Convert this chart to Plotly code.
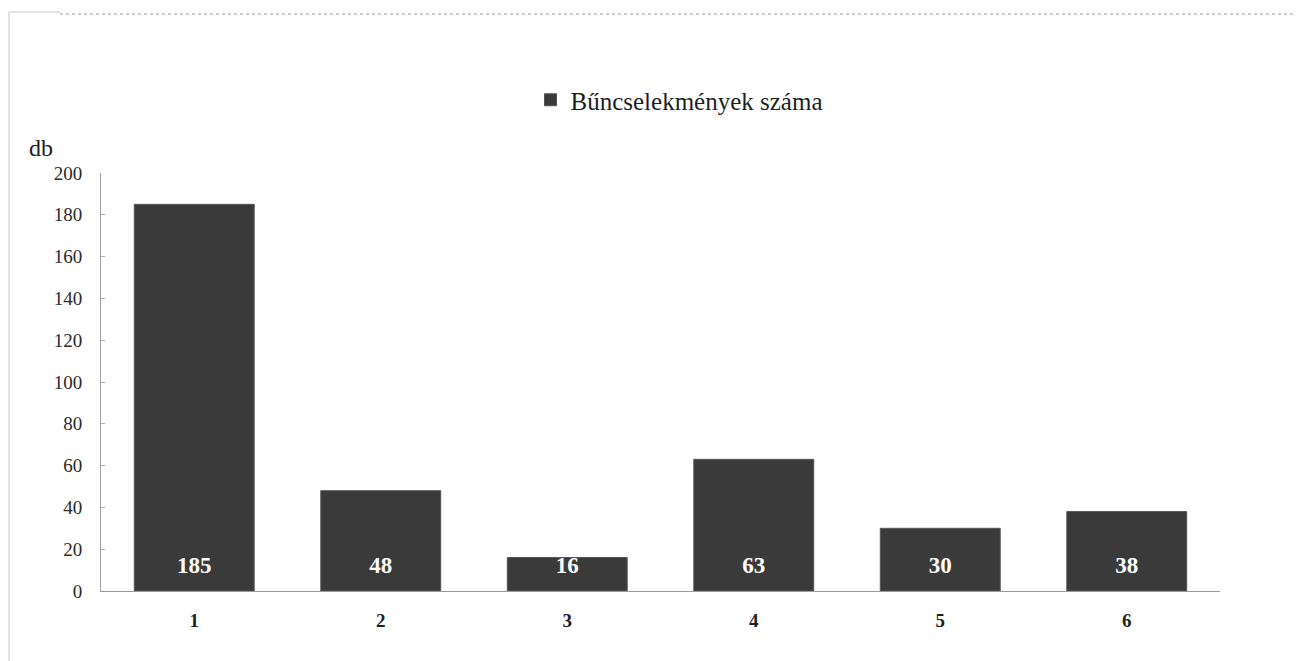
import plotly.graph_objects as go

categories = ["1", "2", "3", "4", "5", "6"]
values = [185, 48, 16, 63, 30, 38]
series_name = "Bűncselekmények száma"
y_ticks = [0, 20, 40, 60, 80, 100, 120, 140, 160, 180, 200]
label_level = 11.5

FONT = "Liberation Serif"

W, H = 1294, 653
L, R, T, B = 93, 82, 165, 70
PW, PH = W - L - R, H - T - B


def px(xw):
    return (xw - 8 - L) / PW


def py(yw):
    return (H - B - (yw - 8)) / PH


fig = go.Figure()
fig.add_trace(go.Bar(
    x=categories, y=values, name=series_name,
    marker=dict(color="#3a3a3a", line=dict(color="#555555", width=1)),
    hoverinfo="x+y",
))
fig.add_trace(go.Scatter(
    x=categories, y=[label_level] * len(values), mode="text",
    text=[str(v) for v in values], showlegend=False,
    textfont=dict(family=FONT, size=23, color="white", weight="bold"),
    cliponaxis=False, hoverinfo="skip",
))

fig.update_layout(
    width=W, height=H,
    margin=dict(l=L, r=R, t=T, b=B),
    paper_bgcolor="white", plot_bgcolor="white",
    font=dict(family=FONT, color="#1e1e1e", size=18),
    bargap=0.357,
    showlegend=True,
    legend=dict(orientation="h", x=px(679), xanchor="center", y=py(100), yanchor="middle",
                font=dict(family=FONT, size=25, color="#1e1e1e"),
                itemwidth=30, bgcolor="rgba(0,0,0,0)"),
    xaxis=dict(
        type="category", showgrid=False, zeroline=False,
        showline=True, linecolor="#9a9a9a", linewidth=1,
        ticks="", tickfont=dict(family=FONT, size=19, color="#1e1e1e", weight="bold"),
        ticklabelstandoff=12,
    ),
    yaxis=dict(
        range=[0, 200], tickvals=y_ticks, showgrid=False, zeroline=False,
        showline=True, linecolor="#a0a0a0", linewidth=1,
        ticks="inside", ticklen=4, tickcolor="#b0b0b0",
        tickfont=dict(family=FONT, size=19, color="#2a2a2a"),
        ticklabelstandoff=14,
    ),
    annotations=[dict(
        text="db", xref="paper", yref="paper",
        x=px(41), y=py(148), xanchor="center", yanchor="middle",
        showarrow=False, font=dict(family=FONT, size=24, color="#1e1e1e"),
    )],
    shapes=[
        dict(type="line", xref="paper", yref="paper",
             x0=px(60), x1=px(1302), y0=py(14), y1=py(14),
             line=dict(color="#9a9a9a", width=1, dash="dot")),
        dict(type="line", xref="paper", yref="paper",
             x0=px(9), x1=px(9), y0=py(12), y1=py(661),
             line=dict(color="#e2e2e2", width=2)),
        dict(type="line", xref="paper", yref="paper",
             x0=px(9), x1=px(60), y0=py(12), y1=py(12),
             line=dict(color="#e2e2e2", width=2)),
    ],
)

fig.write_html("out.html")
